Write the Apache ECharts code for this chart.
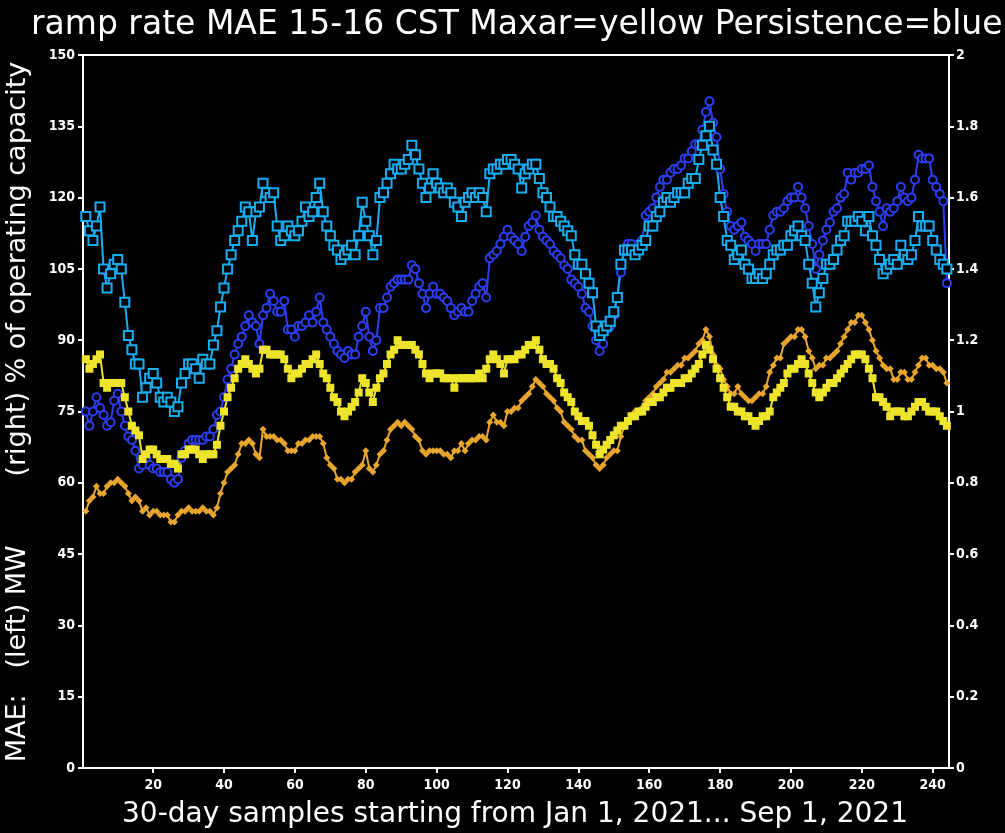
<!DOCTYPE html>
<html>
<head>
<meta charset="utf-8">
<script src="https://cdn.jsdelivr.net/npm/echarts@6/dist/echarts.min.js"></script>
<style>
  html, body { margin: 0; padding: 0; background: #000; }
  #chart { width: 1005px; height: 833px; }
</style>
</head>
<body>
<div id="chart"></div>
<script>
// Tick positions on the sample axis
const sampleTicks = [20, 40, 60, 80, 100, 120, 140, 160, 180, 200, 220, 240];

// Persistence ramp-rate MAE, MW (left axis)
const persistenceMW = [
  116,113,111,114,118,105,101,104,106,107,
  105,98,91,88,85,85,78,80,82,83,
  81,78,77,78,77,75,76,81,83,85,
  85,84,82,86,85,85,89,92,97,101,
  105,108,111,113,115,118,117,111,117,118,
  123,121,120,121,114,111,112,114,113,112,
  113,115,118,116,117,120,123,117,114,112,
  110,109,107,108,109,110,108,112,119,115,
  112,108,111,120,121,123,125,127,126,126,
  127,128,131,129,126,123,120,122,125,123,
  122,121,122,121,119,118,116,119,120,121,
  120,121,120,117,125,126,126,127,127,128,
  128,127,126,122,125,126,127,127,124,121,
  120,118,116,116,115,114,113,112,108,106,
  106,104,102,100,93,91,92,93,94,96,
  99,106,109,109,109,108,109,110,111,114,
  114,116,117,119,120,119,120,121,121,121,
  123,124,124,128,131,133,135,130,127,120,
  116,111,110,107,108,109,106,105,103,103,
  104,103,104,106,108,109,109,110,110,112,
  113,114,112,111,106,102,97,100,103,106,
  106,107,109,111,112,115,115,115,116,115,
  113,116,112,110,107,104,105,106,107,106,
  110,108,107,108,111,116,114,114,114,111,
  109,107,106,105
];

// Persistence ramp-rate MAE, % of operating capacity (right axis)
const persistencePct = [
  1.00,0.96,1.00,1.04,1.01,0.99,0.96,0.97,1.03,1.05,
  1.00,0.96,0.93,0.92,0.89,0.84,0.85,0.87,0.85,0.84,
  0.84,0.83,0.83,0.83,0.81,0.80,0.81,0.87,0.89,0.91,
  0.92,0.92,0.92,0.92,0.93,0.93,0.95,0.99,1.00,1.04,
  1.09,1.12,1.16,1.19,1.21,1.24,1.27,1.25,1.24,1.19,
  1.27,1.29,1.33,1.31,1.28,1.28,1.31,1.23,1.23,1.21,
  1.24,1.24,1.25,1.27,1.25,1.28,1.32,1.25,1.23,1.21,
  1.19,1.17,1.16,1.15,1.17,1.16,1.16,1.21,1.24,1.28,
  1.21,1.17,1.20,1.29,1.29,1.32,1.35,1.36,1.37,1.37,
  1.37,1.37,1.41,1.40,1.36,1.33,1.29,1.33,1.35,1.33,
  1.33,1.32,1.31,1.29,1.27,1.28,1.29,1.28,1.28,1.31,
  1.33,1.35,1.36,1.32,1.43,1.44,1.45,1.47,1.49,1.51,
  1.49,1.48,1.47,1.45,1.49,1.52,1.53,1.55,1.51,1.49,
  1.48,1.47,1.45,1.44,1.43,1.41,1.40,1.37,1.36,1.35,
  1.33,1.29,1.28,1.24,1.20,1.17,1.19,1.23,1.24,1.27,
  1.32,1.39,1.45,1.47,1.47,1.45,1.47,1.48,1.55,1.56,
  1.57,1.60,1.63,1.65,1.65,1.67,1.68,1.68,1.69,1.71,
  1.71,1.73,1.75,1.75,1.79,1.84,1.87,1.81,1.77,1.68,
  1.61,1.56,1.52,1.51,1.52,1.53,1.49,1.48,1.47,1.45,
  1.47,1.47,1.47,1.51,1.55,1.56,1.56,1.57,1.59,1.60,
  1.60,1.63,1.60,1.57,1.52,1.47,1.40,1.44,1.48,1.51,
  1.53,1.56,1.57,1.60,1.61,1.67,1.65,1.67,1.67,1.68,
  1.68,1.69,1.63,1.59,1.56,1.52,1.57,1.56,1.57,1.59,
  1.63,1.60,1.59,1.60,1.65,1.72,1.71,1.71,1.71,1.65,
  1.63,1.61,1.59,1.36
];

// Maxar ramp-rate MAE, MW (left axis)
const maxarMW = [
  86,84,85,86,87,81,80,81,81,81,
  81,78,75,72,71,70,65,66,67,67,
  66,65,65,65,64,64,63,66,66,67,
  67,67,66,65,66,66,66,68,72,75,
  78,80,82,84,85,86,85,84,83,84,
  88,88,87,87,87,87,86,84,82,83,
  83,84,85,85,86,87,85,83,82,80,
  78,77,75,74,75,76,77,79,82,81,
  79,77,80,82,83,85,87,88,90,89,
  89,89,89,88,87,85,83,82,83,83,
  83,82,82,82,80,82,82,82,82,82,
  82,83,82,84,86,87,86,85,83,86,
  86,86,87,87,88,89,89,90,88,86,
  85,85,84,82,81,79,78,77,75,74,
  73,73,72,70,68,66,67,68,69,70,
  71,72,72,73,74,74,75,75,76,77,
  77,78,78,79,80,80,81,81,81,82,
  82,83,84,85,87,89,88,86,84,82,
  80,78,76,76,75,75,74,74,73,72,
  73,74,74,75,78,79,80,81,83,84,
  84,85,86,85,83,81,79,78,79,80,
  81,81,82,83,84,85,86,87,87,87,
  86,84,82,78,78,77,76,74,75,75,
  75,74,74,75,76,77,77,76,75,75,
  75,74,73,72
];

// Maxar ramp-rate MAE, % of operating capacity (right axis)
const maxarPct = [
  0.72,0.75,0.76,0.79,0.77,0.77,0.79,0.80,0.80,0.81,
  0.80,0.79,0.77,0.75,0.76,0.75,0.72,0.73,0.71,0.72,
  0.72,0.71,0.71,0.71,0.69,0.69,0.71,0.72,0.72,0.73,
  0.72,0.72,0.72,0.73,0.72,0.72,0.71,0.73,0.77,0.80,
  0.83,0.84,0.85,0.88,0.91,0.91,0.92,0.91,0.88,0.87,
  0.95,0.93,0.93,0.93,0.92,0.92,0.91,0.89,0.89,0.89,
  0.91,0.91,0.92,0.92,0.93,0.93,0.93,0.91,0.87,0.85,
  0.84,0.81,0.81,0.80,0.81,0.81,0.83,0.84,0.85,0.89,
  0.84,0.83,0.85,0.88,0.89,0.92,0.95,0.96,0.97,0.96,
  0.97,0.96,0.95,0.93,0.92,0.89,0.88,0.89,0.89,0.89,
  0.89,0.88,0.88,0.87,0.89,0.89,0.91,0.89,0.91,0.92,
  0.92,0.93,0.93,0.92,0.97,0.99,0.97,0.97,0.96,1.00,
  1.00,1.01,1.01,1.03,1.04,1.05,1.07,1.09,1.08,1.07,
  1.05,1.04,1.03,1.01,1.00,0.97,0.96,0.95,0.93,0.92,
  0.92,0.89,0.88,0.87,0.85,0.84,0.85,0.87,0.88,0.89,
  0.89,0.93,0.96,0.97,0.99,1.00,1.00,1.01,1.03,1.04,
  1.05,1.07,1.08,1.09,1.11,1.11,1.12,1.13,1.13,1.15,
  1.15,1.16,1.17,1.19,1.20,1.23,1.21,1.16,1.13,1.12,
  1.09,1.07,1.05,1.05,1.07,1.05,1.04,1.03,1.03,1.04,
  1.05,1.05,1.07,1.11,1.13,1.15,1.15,1.19,1.20,1.21,
  1.21,1.23,1.23,1.21,1.17,1.15,1.12,1.13,1.13,1.15,
  1.15,1.16,1.17,1.19,1.21,1.23,1.25,1.25,1.27,1.27,
  1.25,1.23,1.20,1.17,1.15,1.13,1.12,1.12,1.09,1.09,
  1.11,1.11,1.09,1.09,1.11,1.13,1.15,1.15,1.13,1.13,
  1.12,1.12,1.11,1.08
];

// Pair each value with its sample number (1-based)
function toPoints(values) {
  return values.map(function (v, i) { return [i + 1, v]; });
}

const WHITE = '#ffffff';
const tickFont = { color: WHITE, fontSize: 14, fontWeight: 'bold', fontFamily: 'DejaVu Sans Condensed, DejaVu Sans, sans-serif' };

function lineSeries(name, values, axis, symbol, size, color, hollow) {
  return {
    name: name,
    type: 'line',
    yAxisIndex: axis,
    data: toPoints(values),
    symbol: symbol,
    symbolSize: size,
    showAllSymbol: true,
    lineStyle: { color: color, width: 2 },
    itemStyle: hollow
      ? { color: '#000000', borderColor: color, borderWidth: 2 }
      : { color: color, borderWidth: 0 },
    emphasis: { disabled: true },
    silent: true
  };
}

const chart = echarts.init(document.getElementById('chart'), null, { renderer: 'canvas' });

chart.setOption({
  backgroundColor: '#000000',
  animation: false,
  title: {
    text: 'ramp rate MAE 15-16 CST Maxar=yellow Persistence=blue',
    left: 26,
    top: 4,
    textStyle: { color: WHITE, fontSize: 33, fontWeight: 'normal', fontFamily: 'DejaVu Sans, sans-serif' }
  },
  grid: {
    left: 83, top: 55, right: 56, bottom: 65,
    show: true, borderColor: WHITE, borderWidth: 2, backgroundColor: 'transparent'
  },
  xAxis: {
    type: 'value',
    min: 0.2,
    max: 244.6,
    axisLine: { show: false },
    splitLine: { show: false },
    axisTick: { show: true, inside: false, length: 5, lineStyle: { color: WHITE, width: 2 }, customValues: sampleTicks },
    axisLabel: Object.assign({ margin: 10, customValues: sampleTicks }, tickFont)
  },
  yAxis: [
    {
      type: 'value', position: 'left',
      min: 0, max: 150, interval: 15,
      axisLine: { show: false },
      splitLine: { show: false },
      axisTick: { show: true, length: 5, lineStyle: { color: WHITE, width: 2 } },
      axisLabel: Object.assign({ margin: 8 }, tickFont)
    },
    {
      type: 'value', position: 'right',
      min: 0, max: 2, interval: 0.2,
      axisLine: { show: false },
      splitLine: { show: false },
      axisTick: { show: true, length: 5, lineStyle: { color: WHITE, width: 2 } },
      axisLabel: Object.assign({ margin: 7 }, tickFont)
    }
  ],
  graphic: [
    {
      type: 'text', x: 515, y: 815,
      style: {
        text: '30-day samples starting from Jan 1, 2021... Sep 1, 2021',
        fill: WHITE, font: '28px "DejaVu Sans", sans-serif',
        textAlign: 'center', textVerticalAlign: 'middle'
      }
    },
    {
      type: 'text', x: 18, y: 412, rotation: Math.PI / 2,
      style: {
        text: 'MAE:   (left) MW        (right) % of operating capacity',
        fill: WHITE, font: '27px "DejaVu Sans", sans-serif',
        textAlign: 'center', textVerticalAlign: 'middle'
      }
    }
  ],
  series: [
    lineSeries('Persistence %', persistencePct, 1, 'circle', 8, '#2c3ef0', true),
    lineSeries('Persistence MW', persistenceMW, 0, 'rect', 9, '#18acf0', true),
    lineSeries('Maxar %', maxarPct, 1, 'diamond', 7, '#e9a62e', false),
    lineSeries('Maxar MW', maxarMW, 0, 'rect', 8, '#eee42c', false)
  ]
});
</script>
</body>
</html>
